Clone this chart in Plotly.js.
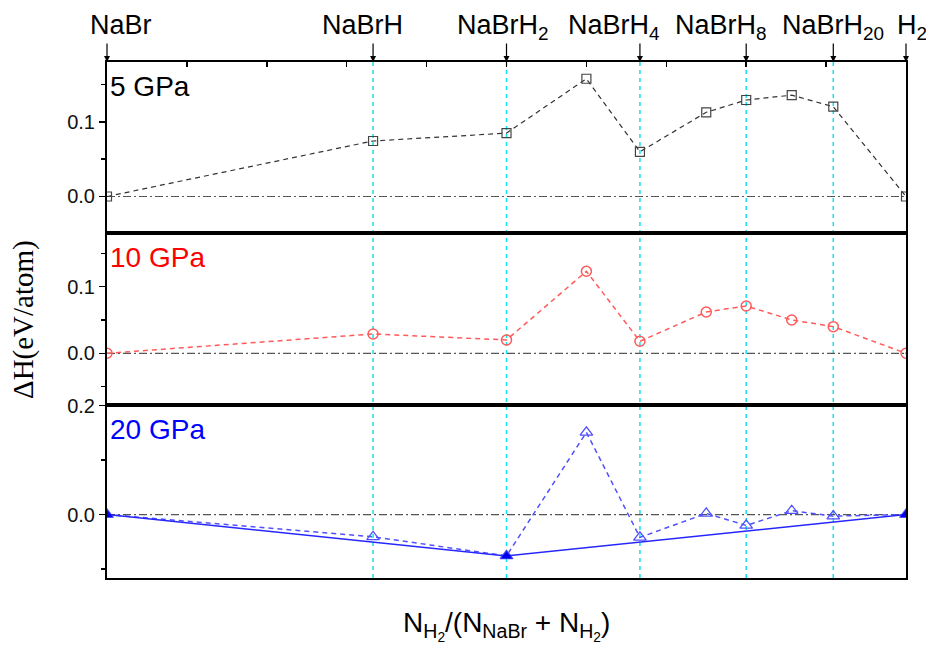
<!DOCTYPE html>
<html>
<head>
<meta charset="utf-8">
<script src="https://cdn.plot.ly/plotly-3.0.1.min.js"></script>
<style>html,body{margin:0;padding:0;background:#fff;}#chart{width:926px;height:650px;}</style>
</head>
<body>
<div id="chart"></div>
<script>
// ---- data ----
const compX = [0, 0.333, 0.5, 0.667, 0.8, 0.909, 1];
const compLabels = ['NaBr', 'NaBrH', 'NaBrH<sub>2</sub>', 'NaBrH<sub>4</sub>', 'NaBrH<sub>8</sub>', 'NaBrH<sub>20</sub>', 'H<sub>2</sub>'];
const xs = [0, 0.333, 0.5, 0.6, 0.667, 0.75, 0.8, 0.857, 0.909, 1];
const dH5  = [0, 0.0745, 0.085, 0.158, 0.060, 0.113, 0.1295, 0.136, 0.1205, 0];
const dH10 = [0, 0.029, 0.020, 0.123, 0.018, 0.062, 0.071, 0.050, 0.040, 0];
const dH20 = [0, -0.041, -0.076, 0.151, -0.042, 0.002, -0.020, 0.007, -0.003, 0];
const hullX = [0, 0.5, 1];
const hullY = [0, -0.076, 0];
const pressures = ['5 GPa', '10 GPa', '20 GPa'];

// ---- styles ----
const labelShift = [14, -11, -4, -26, -25, 0, -11];
const FONT = 'Liberation Sans, Arial, sans-serif';
const dashLine = '5px,4px';

const traces = [
  {x: xs, y: dH5, xaxis: 'x3', yaxis: 'y', mode: 'lines+markers', type: 'scatter',
   line: {color: '#333', width: 1.2, dash: dashLine},
   marker: {symbol: 'square-open', size: 9, color: '#444', line: {width: 1.2}}},
  {x: xs, y: dH10, xaxis: 'x2', yaxis: 'y2', mode: 'lines+markers', type: 'scatter',
   line: {color: '#ff5a5a', width: 1.5, dash: dashLine},
   marker: {symbol: 'circle-open', size: 10, color: '#ff5a5a', line: {width: 1.5}}},
  {x: xs, y: dH20, xaxis: 'x', yaxis: 'y3', mode: 'lines+markers', type: 'scatter',
   line: {color: '#5050ff', width: 1.5, dash: dashLine},
   marker: {symbol: 'triangle-up-open', size: 11, color: '#5050ff', line: {width: 1.3}}},
  {x: hullX, y: hullY, xaxis: 'x', yaxis: 'y3', mode: 'lines+markers', type: 'scatter',
   line: {color: '#2626ff', width: 1.5},
   marker: {symbol: 'triangle-up', size: 10, color: '#0000ee'}}
];

const frame = {showline: true, mirror: true, linecolor: '#000', linewidth: 2, showgrid: false, zeroline: false};
const yTick = {ticks: 'outside', ticklen: 6, tickwidth: 1.5, tickcolor: '#000', tickformat: '.1f',
  tickfont: {family: FONT, size: 20, color: '#111'}};
const minorY = (d) => ({dtick: d, ticks: 'outside', ticklen: 4, tickwidth: 1.5, tickcolor: '#000'});

const shapes = [];
compX.slice(1, 6).forEach(v => shapes.push({type: 'line', xref: 'x', yref: 'paper', x0: v, x1: v, y0: 0, y1: 1,
  line: {color: '#10e4ec', width: 1.5, dash: '4px,4px'}, layer: 'below'}));
['y', 'y2', 'y3'].forEach(ya => shapes.push({type: 'line', xref: 'x', yref: ya, x0: 0, x1: 1, y0: 0, y1: 0,
  line: {color: '#555', width: 1.2, dash: '8px,3px,2px,3px'}, layer: 'below'}));

const annotations = [];
compX.forEach((v, i) => {
  annotations.push({x: v, y: 1, xref: 'x', yref: 'paper', text: '', showarrow: true, ax: 0, ay: -20,
    arrowhead: 2, arrowsize: 1, arrowwidth: 1.2, arrowcolor: '#000', standoff: 0});
  annotations.push({x: v, y: 1, xref: 'x', yref: 'paper', text: compLabels[i], showarrow: false,
    xanchor: i === 6 ? 'left' : 'center', yanchor: 'top', xshift: labelShift[i], yshift: 54,
    font: {family: FONT, size: 27, color: '#000'}});
});
const pColors = ['#000', '#ff0000', '#0000ff'];
const pRefs = ['y domain', 'y2 domain', 'y3 domain'];
pressures.forEach((p, i) => annotations.push({x: 0, y: 1, xref: 'x domain', yref: pRefs[i], text: p,
  showarrow: false, xanchor: 'left', yanchor: 'top', xshift: 1, yshift: -7,
  font: {family: FONT, size: 28, color: pColors[i]}}));
annotations.push({x: 0, y: 0.5, xref: 'paper', yref: 'paper', text: 'ΔH(eV/atom)', textangle: -90,
  showarrow: false, xanchor: 'center', yanchor: 'middle', xshift: -84,
  font: {family: 'Liberation Serif, Times New Roman, serif', size: 29, color: '#000'}});
annotations.push({x: 0.5, y: 0, xref: 'paper', yref: 'paper',
  text: 'N<sub>H<sub>2</sub></sub>/(N<sub>NaBr</sub> + N<sub>H<sub>2</sub></sub>)',
  showarrow: false, xanchor: 'center', yanchor: 'top', yshift: -27,
  font: {family: FONT, size: 28, color: '#000'}});

const layout = {
  width: 926, height: 650,
  margin: {l: 107, r: 20, t: 62, b: 72},
  paper_bgcolor: '#fff', plot_bgcolor: '#fff',
  showlegend: false,
  xaxis: Object.assign({}, frame, {domain: [0, 1], anchor: 'y3', range: [0, 1], ticks: '', showticklabels: false}),
  xaxis2: Object.assign({}, frame, {domain: [0, 1], anchor: 'y2', matches: 'x', range: [0, 1], ticks: '', showticklabels: false}),
  xaxis3: Object.assign({}, frame, {domain: [0, 1], anchor: 'y', matches: 'x', range: [0, 1], side: 'top',
    ticks: 'inside', ticklen: 5, tickwidth: 1.5, tickcolor: '#000', dtick: 0.1, tick0: 0, showticklabels: false}),
  yaxis: Object.assign({}, frame, yTick, {domain: [0.6686, 1], anchor: 'x3', range: [-0.049, 0.1805],
    dtick: 0.1, tick0: 0, minor: minorY(0.05)}),
  yaxis2: Object.assign({}, frame, yTick, {domain: [0.3353, 0.6686], anchor: 'x2', range: [-0.0775, 0.1804],
    dtick: 0.1, tick0: 0, minor: minorY(0.05)}),
  yaxis3: Object.assign({}, frame, yTick, {domain: [0, 0.3353], anchor: 'x', range: [-0.1166, 0.2012],
    dtick: 0.2, tick0: 0, minor: minorY(0.1)}),
  shapes: shapes,
  annotations: annotations
};

Plotly.newPlot('chart', traces, layout, {displayModeBar: false, staticPlot: true});
</script>
</body>
</html>
